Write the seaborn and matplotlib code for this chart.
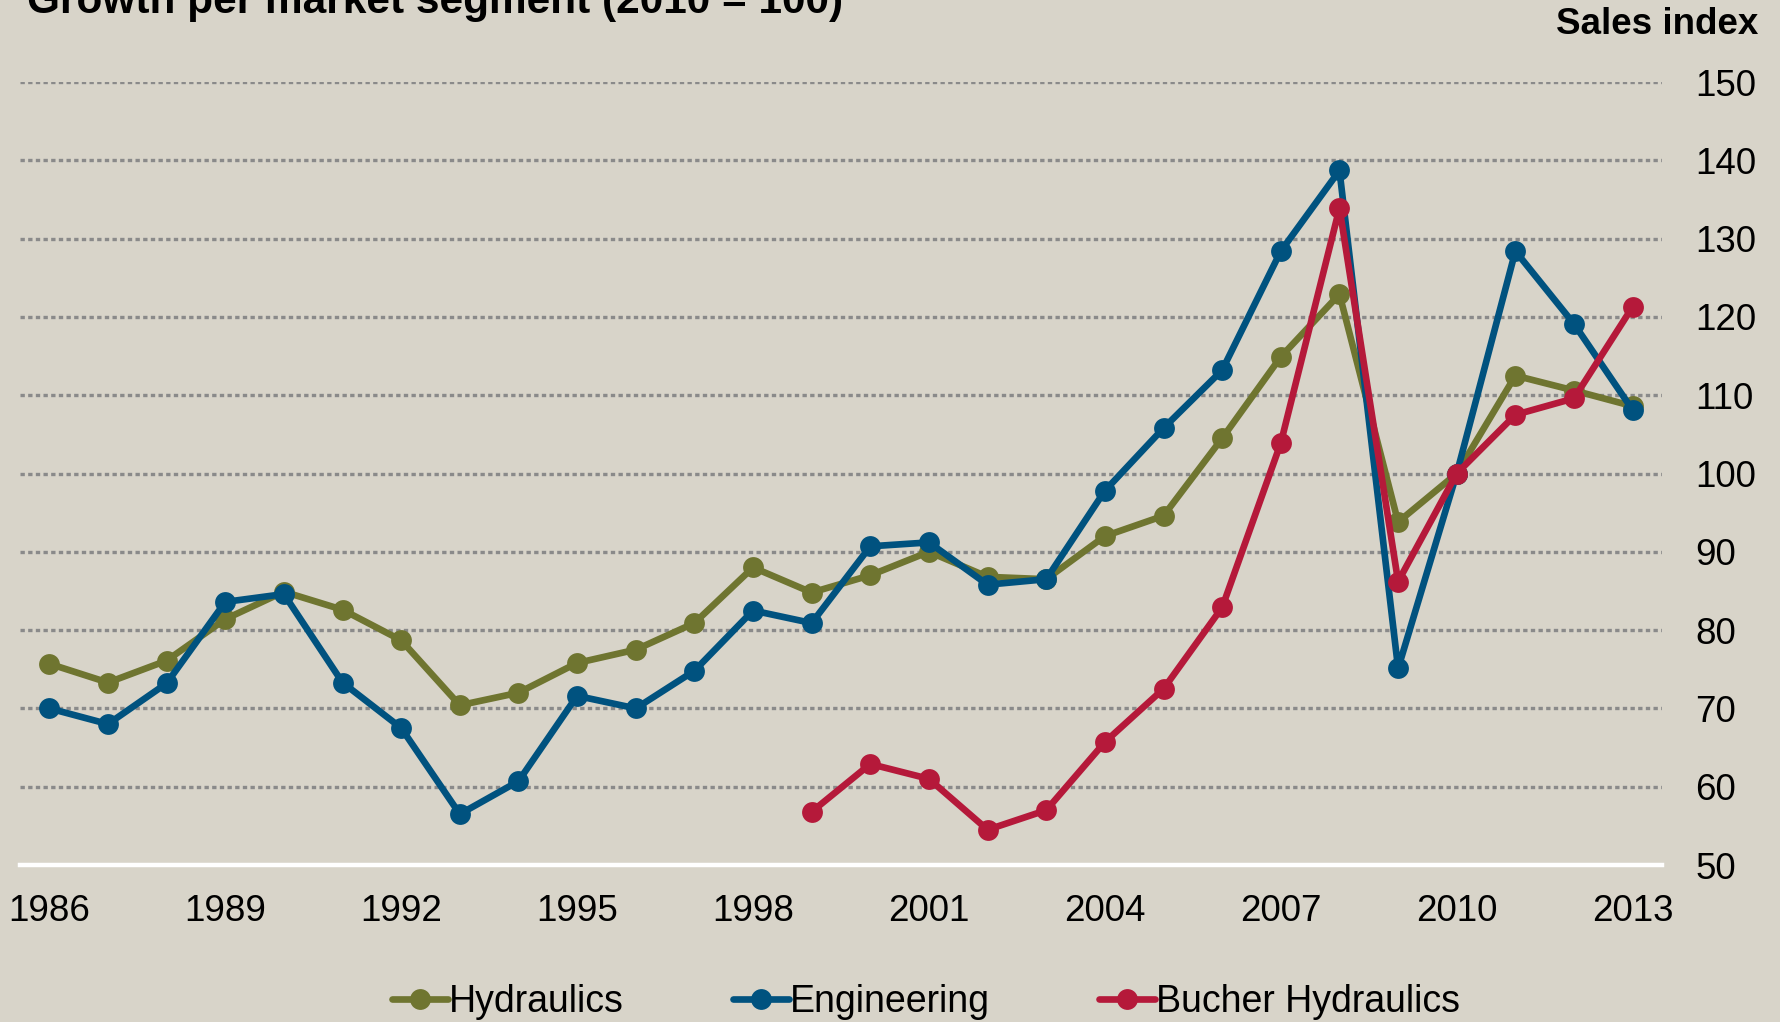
import matplotlib
matplotlib.use("Agg")
import matplotlib.pyplot as plt
import seaborn as sns
import pandas as pd

years = list(range(1986, 2014))
hydraulics = [75.7, 73.3, 76.1, 81.4, 84.9, 82.6, 78.7, 70.4, 72.0, 75.8, 77.5, 80.9,
              88.0, 84.8, 87.0, 90.0, 86.8, 86.5, 92.0, 94.6, 104.5, 114.9, 122.9,
              93.8, 100.0, 112.5, 110.6, 108.6]
engineering = [70.0, 68.0, 73.2, 83.6, 84.6, 73.3, 67.5, 56.5, 60.7, 71.6, 70.0, 74.8,
               82.5, 80.9, 90.7, 91.2, 85.8, 86.5, 97.8, 105.8, 113.2, 128.4, 138.7,
               75.1, 100.0, 128.4, 119.1, 108.1]
bucher_years = list(range(1999, 2014))
bucher = [56.8, 62.9, 61.0, 54.5, 57.0, 65.7, 72.5, 82.9, 103.9, 133.9, 86.2, 100.0,
          107.5, 109.6, 121.3]
series_names = ["Hydraulics", "Engineering", "Bucher Hydraulics"]
yticks = list(range(50, 151, 10))
xticks = list(range(1986, 2014, 3))
title = "Growth per market segment (2010 = 100)"
ylabel = "Sales index"

df = pd.concat([
    pd.DataFrame({"year": years, "value": hydraulics, "series": series_names[0]}),
    pd.DataFrame({"year": years, "value": engineering, "series": series_names[1]}),
    pd.DataFrame({"year": bucher_years, "value": bucher, "series": series_names[2]}),
])

bg = "#d8d4c9"
palette = {"Hydraulics": "#6f7530", "Engineering": "#00527f", "Bucher Hydraulics": "#b5193a"}

sns.set_theme(style="white")
plt.rcParams["font.family"] = ["Liberation Sans", "DejaVu Sans"]
plt.rcParams["text.color"] = "black"

fig = plt.figure(figsize=(17.81, 10.22), dpi=100, facecolor=bg)
ax = fig.add_axes([20 / 1781, 1 - 865 / 1022, (1662 - 20) / 1781, (865 - 82) / 1022])
ax.set_facecolor(bg)

sns.lineplot(data=df, x="year", y="value", hue="series", hue_order=series_names,
             palette=palette, marker="o", markersize=15, markeredgewidth=0,
             linewidth=4.8, ax=ax, legend=False, zorder=3)
for ln in ax.lines:
    ln.set_clip_on(False)

ax.set_xlim(1985.5, 2013.5)
ax.set_ylim(50, 150)
ax.set_xticks(xticks)
ax.set_yticks(yticks)
ax.set_xlabel("")
ax.set_ylabel("")
for y in yticks[1:]:
    ax.axhline(y, color="#8a8a8a", lw=2.4, linestyle=(0, (1.3, 1.0)), zorder=1)

for s in ["top", "left", "right"]:
    ax.spines[s].set_visible(False)
ax.spines["bottom"].set_color("white")
ax.spines["bottom"].set_linewidth(3.2)
ax.spines["bottom"].set_zorder(2)

ax.yaxis.tick_right()
ax.tick_params(axis="y", length=0, pad=24, labelsize=26.5, labelcolor="black")
ax.tick_params(axis="x", length=0, pad=21, labelsize=26.5, labelcolor="black")
for lab in ax.get_yticklabels():
    lab.set_horizontalalignment("left")

fig.text(27 / 1781, 1 - 12.5 / 1022, title, fontsize=30.5, fontweight="bold",
         ha="left", va="baseline", color="black")
fig.text(1758 / 1781, 1 - 25 / 1022, ylabel, fontsize=26.5, fontweight="bold",
         ha="right", va="center", color="black")

leg = fig.legend(handles=ax.lines[:3], labels=series_names, loc="center",
                 bbox_to_anchor=(926 / 1781, 1 - 1002 / 1022), ncol=3, frameon=False,
                 fontsize=27, handlelength=1.5, handletextpad=0.03,
                 columnspacing=2.9, borderaxespad=0)
for t in leg.get_texts():
    t.set_color("black")

fig.savefig("out.png", dpi=100, facecolor=bg)
